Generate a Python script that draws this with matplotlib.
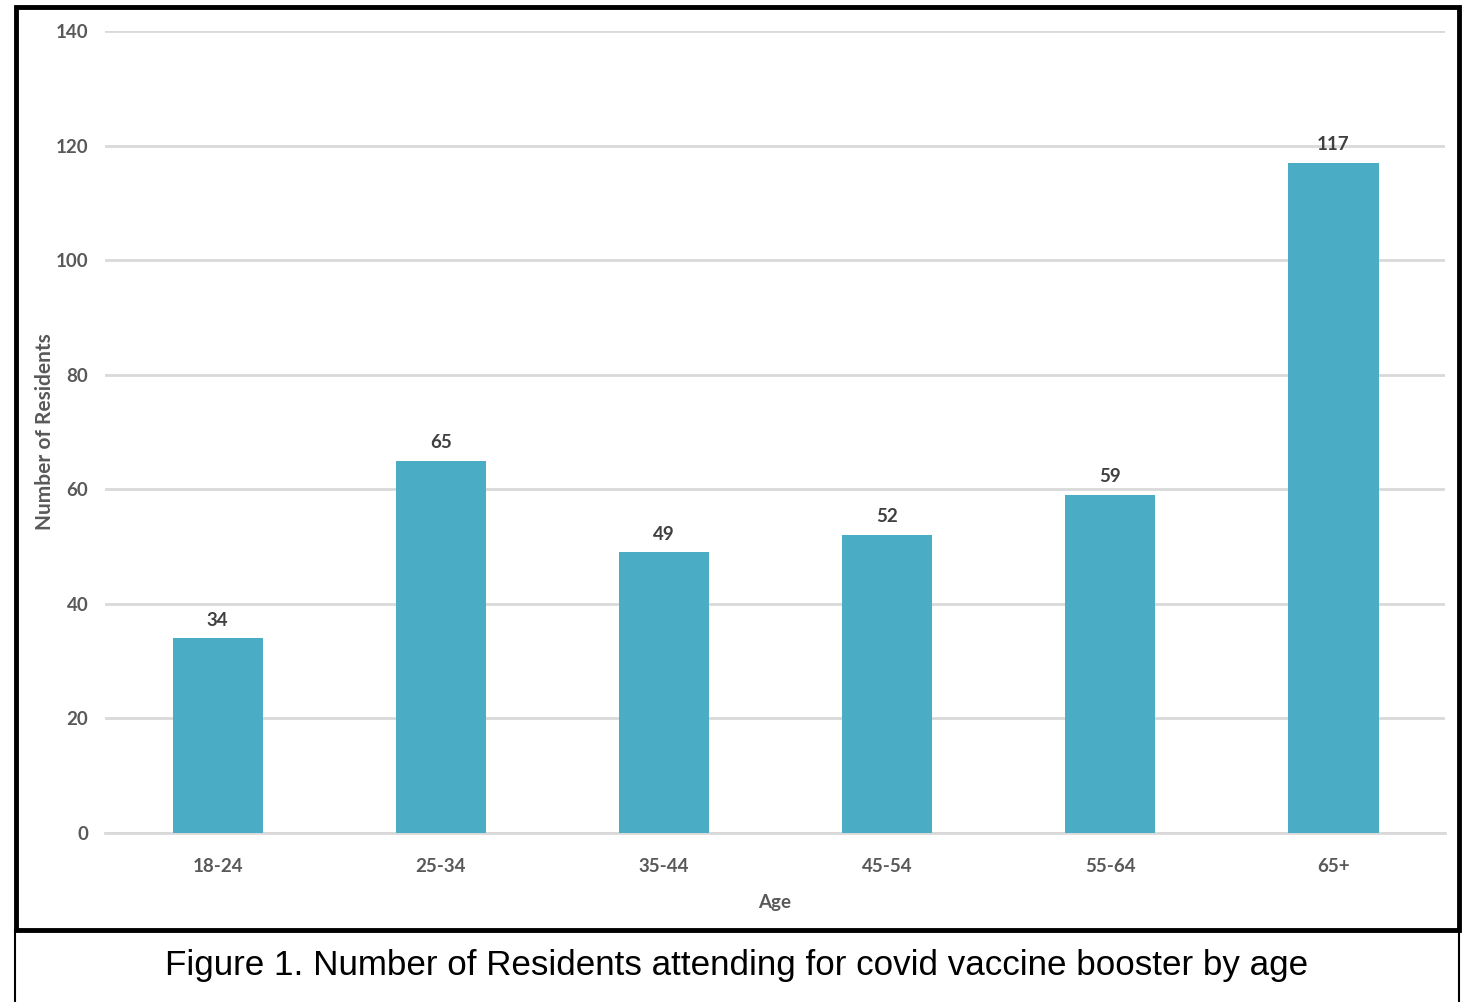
#!/usr/bin/env python3
import matplotlib
matplotlib.use("Agg")
import matplotlib.pyplot as plt
from matplotlib import rcParams
from matplotlib.patches import Rectangle
from matplotlib.lines import Line2D

age_groups = ["18-24", "25-34", "35-44", "45-54", "55-64", "65+"]
residents = [34, 65, 49, 52, 59, 117]
y_ticks = [0, 20, 40, 60, 80, 100, 120, 140]
caption = "Figure 1. Number of Residents attending for covid vaccine booster by age"


def main():
    rcParams["font.family"] = ["Lato", "DejaVu Sans"]
    bar_color = "#4BACC6"
    tick_color = "#595959"

    fig = plt.figure(figsize=(14.68, 10.02), dpi=100)
    ax = fig.add_axes([105 / 1468, 1 - 833 / 1002,
                       (1445 - 105) / 1468, (833 - 31) / 1002])

    x = range(len(age_groups))
    bars = ax.bar(x, residents, width=0.405, color=bar_color, zorder=3)
    for rect, val in zip(bars, residents):
        ax.annotate(str(val), (rect.get_x() + rect.get_width() / 2, val),
                    xytext=(0, 7), textcoords="offset points",
                    ha="center", va="bottom", fontsize=13.5,
                    fontweight="bold", color="#404040")

    ax.set_xlim(-0.505, 5.5)
    ax.set_ylim(0, 140)
    ax.set_yticks(y_ticks)
    ax.set_xticks(list(x))
    ax.set_xticklabels(age_groups)
    ax.grid(axis="y", color="#D9D9D9", linewidth=2, zorder=0)
    for side in ("top", "right", "left"):
        ax.spines[side].set_visible(False)
    ax.spines["bottom"].set_color("#D9D9D9")
    ax.spines["bottom"].set_linewidth(2)
    ax.tick_params(axis="both", length=0, labelsize=13.5, labelcolor=tick_color)
    ax.tick_params(axis="y", pad=12)
    ax.tick_params(axis="x", pad=18)
    for lbl in ax.get_xticklabels() + ax.get_yticklabels():
        lbl.set_fontweight("bold")

    ax.set_xlabel("Age", fontsize=13.5, fontweight="bold", color=tick_color,
                  labelpad=14)
    ax.set_ylabel("Number of Residents", fontsize=15, fontweight="bold",
                  color=tick_color)
    ax.yaxis.set_label_coords((55 - 105) / (1445 - 105), (833 - 432) / (833 - 31))

    # chart frame and caption box
    fig.patches.append(Rectangle((16 / 1468, 1 - 930 / 1002),
                                 (1459 - 16) / 1468, (930 - 7) / 1002,
                                 transform=fig.transFigure, fill=False,
                                 edgecolor="black", linewidth=3.5))
    for xs in (15 / 1468, 1459 / 1468):
        fig.lines.append(Line2D([xs, xs], [0, 1 - 930 / 1002],
                                transform=fig.transFigure,
                                color="black", linewidth=1.5))
    fig.text(737 / 1468, 1 - 966 / 1002, caption, ha="center", va="center",
             fontsize=25.2, family="Liberation Sans", color="black")

    fig.savefig("out.png", dpi=100)


if __name__ == "__main__":
    main()
